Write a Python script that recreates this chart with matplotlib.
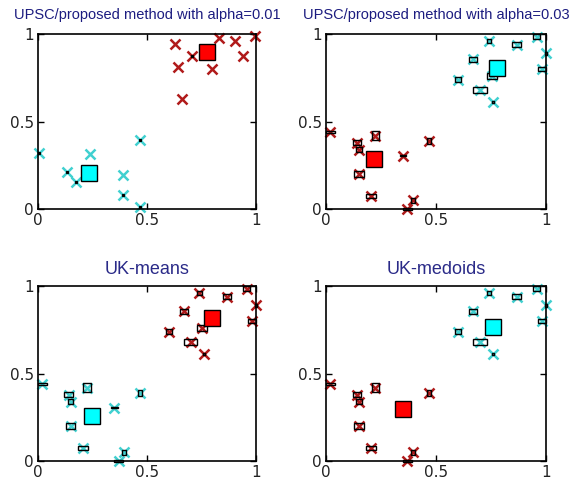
import matplotlib
matplotlib.use("Agg")
from matplotlib import pyplot as plt
from matplotlib.patches import Rectangle

# uncertain objects (centre + box size), shared by three panels
obj_x = [0.74, 0.866, 0.957, 1.0, 0.98, 0.67, 0.60, 0.70, 0.754, 0.76,
         0.02, 0.14, 0.15, 0.224, 0.15, 0.205, 0.35, 0.47, 0.37, 0.395]
obj_y = [0.96, 0.94, 0.985, 0.89, 0.80, 0.856, 0.74, 0.68, 0.758, 0.61,
         0.44, 0.38, 0.34, 0.42, 0.20, 0.073, 0.305, 0.39, 0.0, 0.05]
obj_w = [0.02, 0.037, 0.03, 0.008, 0.037, 0.037, 0.027, 0.06, 0.046, 0.008,
         0.04, 0.037, 0.024, 0.034, 0.043, 0.046, 0.03, 0.018, 0.043, 0.015]
obj_h = [0.027, 0.027, 0.027, 0.02, 0.02, 0.027, 0.03, 0.03, 0.035, 0.01,
         0.015, 0.03, 0.03, 0.046, 0.035, 0.023, 0.008, 0.035, 0.015, 0.027]
upper = [1] * 10 + [0] * 10   # 1 = upper-right group

# first panel (alpha=0.01) shows its own sample positions
p1_x = [0.005, 0.134, 0.176, 0.24, 0.388, 0.39, 0.467, 0.467,
        0.629, 0.644, 0.66, 0.705, 0.80, 0.832, 0.904, 0.939, 0.997]
p1_y = [0.32, 0.214, 0.156, 0.313, 0.197, 0.082, 0.395, 0.013,
        0.943, 0.811, 0.628, 0.876, 0.80, 0.98, 0.958, 0.876, 0.99]
p1_dot = [1, 1, 1, 0, 0, 1, 1, 1, 0, 0, 0, 1, 0, 0, 0, 0, 0]
p1_upper = [0] * 8 + [1] * 9

titles = ["UPSC/proposed method with alpha=0.01",
          "UPSC/proposed method with alpha=0.03",
          "UK-means", "UK-medoids"]
# centroids: (upper x, upper y, lower x, lower y)
centroids = [(0.774, 0.897, 0.232, 0.208),
             (0.777, 0.807, 0.217, 0.285),
             (0.80, 0.815, 0.247, 0.26),
             (0.758, 0.764, 0.352, 0.30)]
# colour of upper-right group in each panel
upper_is_red = [True, False, True, False]

RED_X = "#b01a1a"
CYAN_X = "#40d0d0"
RED_C = "#ff0000"
CYAN_C = "#00ffff"

fig = plt.figure(figsize=(5.72, 4.84), dpi=100)
boxes = [(38, 34), (326, 34), (38, 286), (326, 286)]

for i, (l, t) in enumerate(boxes):
    w = 218 if l == 38 else 220
    ax = fig.add_axes([l / 572, 1 - (t + 175) / 484, w / 572, 175 / 484])
    red_up = upper_is_red[i]
    if i == 0:
        xs, ys, grp = p1_x, p1_y, p1_upper
    else:
        xs, ys, grp = obj_x, obj_y, upper
    for j in range(len(xs)):
        is_red = (grp[j] == 1) == red_up
        ax.plot(xs[j], ys[j], "x", color=RED_X if is_red else CYAN_X,
                ms=7, mew=1.8, clip_on=False, zorder=2)
        if i == 0:
            if p1_dot[j]:
                ax.add_patch(Rectangle((xs[j] - 0.005, ys[j] - 0.006), 0.01, 0.012,
                                       fc="black", ec="black", lw=0.8,
                                       clip_on=False, zorder=3))
        else:
            ax.add_patch(Rectangle((xs[j] - obj_w[j] / 2, ys[j] - obj_h[j] / 2),
                                   obj_w[j], obj_h[j], fill=False, ec="black",
                                   lw=1.0, clip_on=False, zorder=3))
    ux, uy, lx, ly = centroids[i]
    ax.plot(ux, uy, "s", ms=12, mfc=RED_C if red_up else CYAN_C, mec="black",
            mew=1.0, zorder=4)
    ax.plot(lx, ly, "s", ms=12, mfc=CYAN_C if red_up else RED_C, mec="black",
            mew=1.0, zorder=4)

    ax.set_xlim(0, 1)
    ax.set_ylim(0, 1)
    ax.set_xticks([0, 0.5, 1])
    ax.set_yticks([0, 0.5, 1])
    ax.set_xticklabels(["0", "0.5", "1"])
    ax.set_yticklabels(["0", "0.5", "1"])
    ax.tick_params(direction="in", length=4, width=1, top=True, right=True,
                   labelsize=11, labelcolor="#222222", pad=3)
    for s in ax.spines.values():
        s.set_linewidth(1.2)
    if i < 2:
        ax.set_title(titles[i], fontsize=10.5, color="#1c1c80", pad=11,
                     family="Liberation Sans")
    else:
        ax.set_title(titles[i], fontsize=13, color="#2a2a88", pad=9,
                     family="Liberation Sans")

plt.savefig("out.png", dpi=100)
